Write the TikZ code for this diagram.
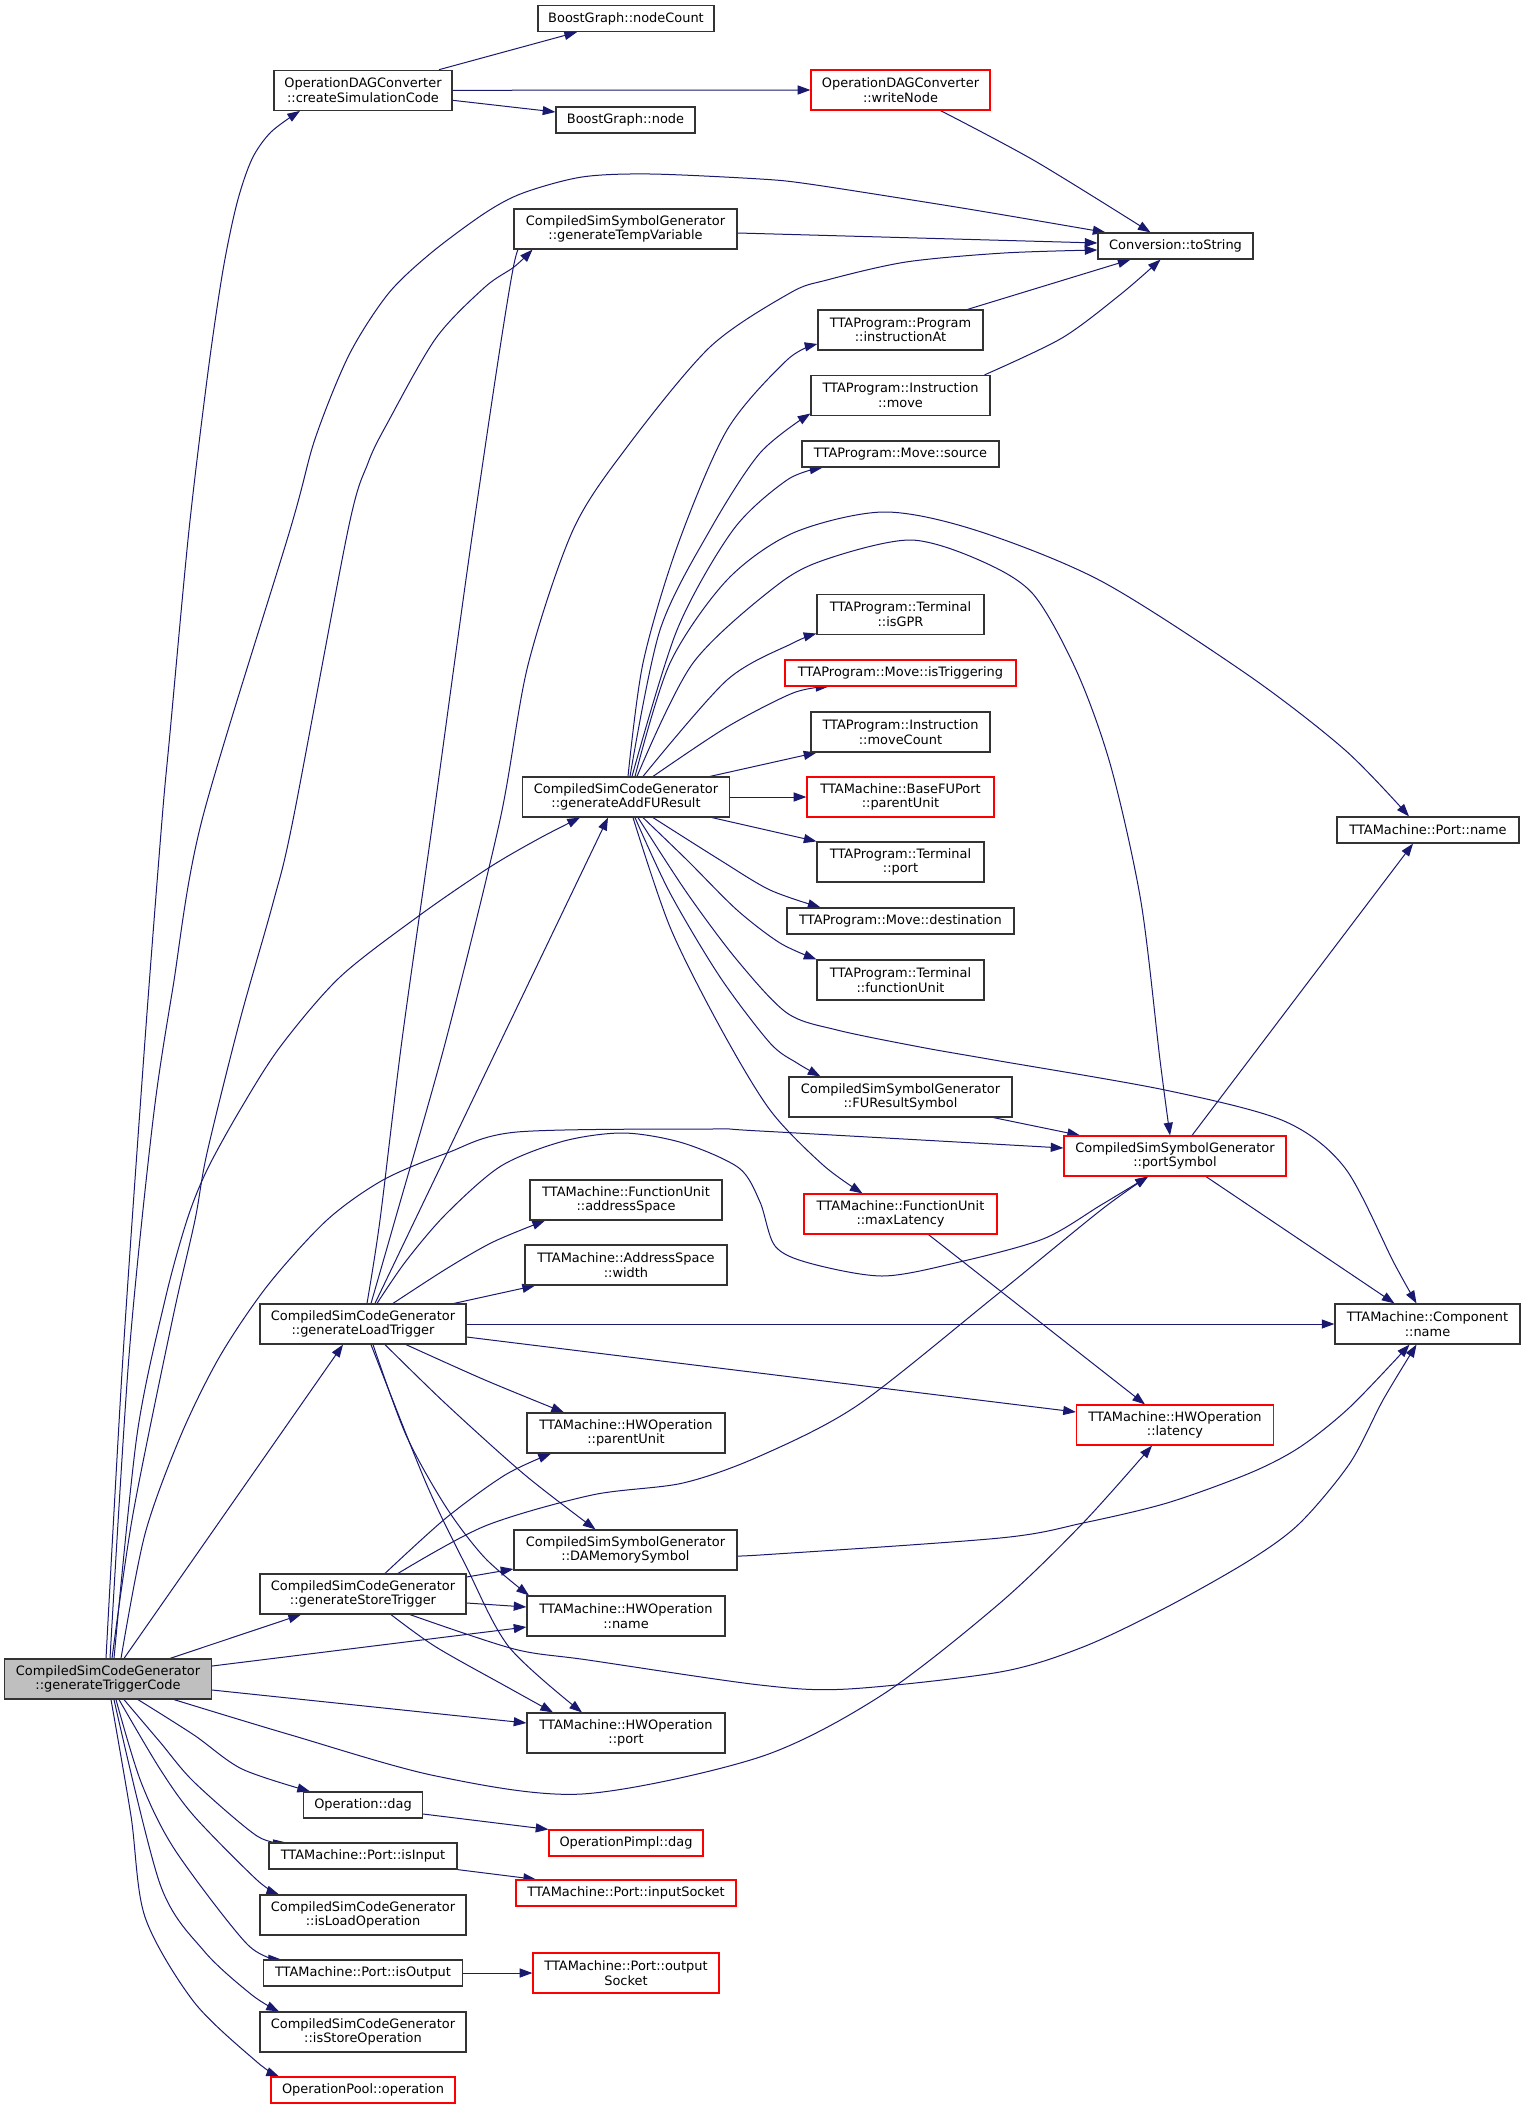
\documentclass[tikz,border=0pt]{standalone}
\usepackage{fontspec}
\setmainfont{DejaVu Sans}
\usetikzlibrary{arrows.meta,backgrounds,calc}
\definecolor{edgec}{HTML}{191970}
\definecolor{boxc}{HTML}{333333}
\definecolor{rootf}{HTML}{BFBFBF}
\definecolor{redc}{HTML}{FF0000}
\tikzset{
  box/.style={draw=boxc, fill=white, line width=0.9pt, inner sep=0pt, align=center,
    font={\fontsize{9.7}{11}\selectfont}, text=black},
  rbox/.style={box, draw=redc},
  root/.style={box, fill=rootf},
  hA/.style={minimum height=19.5pt},
  hB/.style={minimum height=30pt},
  e/.style={draw=edgec, line width=0.75pt, -{Triangle[length=9.5pt,width=6.8pt]}}
}
\begin{document}
\begin{tikzpicture}[x=0.75pt,y=-0.75pt]
\useasboundingbox (0,0) rectangle (1525,2109);
% nodes
\node[box, hA, minimum width=132pt] (nc) at (626,18.5) {BoostGraph::nodeCount};
\node[box, hB, minimum width=133.5pt] (cs) at (363,90.3) {OperationDAGConverter\\::createSimulationCode};
\node[box, hA, minimum width=104.25pt] (bn) at (625.5,120) {BoostGraph::node};
\node[rbox, hB, minimum width=134.25pt] (wn) at (900.5,90) {OperationDAGConverter\\::writeNode};
\node[box, hB, minimum width=167.25pt] (tv) at (625.5,229) {CompiledSimSymbolGenerator\\::generateTempVariable};
\node[box, hA, minimum width=116.25pt] (ts) at (1175.5,246) {Conversion::toString};
\node[box, hB, minimum width=123.75pt] (ia) at (900.5,330) {TTAProgram::Program\\::instructionAt};
\node[box, hB, minimum width=134.25pt] (mv) at (900.5,395.5) {TTAProgram::Instruction\\::move};
\node[box, hA, minimum width=147.75pt] (so) at (900.5,454) {TTAProgram::Move::source};
\node[box, hB, minimum width=125.25pt] (ig) at (900.5,614.5) {TTAProgram::Terminal\\::isGPR};
\node[rbox, hA, minimum width=173.25pt] (it) at (900.5,673) {TTAProgram::Move::isTriggering};
\node[box, hB, minimum width=134.25pt] (mc) at (900.5,732) {TTAProgram::Instruction\\::moveCount};
\node[box, hB, minimum width=155.25pt] (A) at (626,797) {CompiledSimCodeGenerator\\::generateAddFUResult};
\node[rbox, hB, minimum width=140.25pt] (bp) at (900.5,797) {TTAMachine::BaseFUPort\\::parentUnit};
\node[box, hA, minimum width=136.5pt] (pn) at (1428,830) {TTAMachine::Port::name};
\node[box, hB, minimum width=125.25pt] (tp) at (900.5,862) {TTAProgram::Terminal\\::port};
\node[box, hA, minimum width=170.25pt] (de) at (900.5,921) {TTAProgram::Move::destination};
\node[box, hB, minimum width=125.25pt] (fu) at (900.5,980) {TTAProgram::Terminal\\::functionUnit};
\node[box, hB, minimum width=167.25pt] (fr) at (900.5,1097) {CompiledSimSymbolGenerator\\::FUResultSymbol};
\node[rbox, hB, minimum width=166.5pt] (ps) at (1175,1156) {CompiledSimSymbolGenerator\\::portSymbol};
\node[box, hB, minimum width=144pt] (as) at (626,1200) {TTAMachine::FunctionUnit\\::addressSpace};
\node[rbox, hB, minimum width=144.75pt] (ml) at (900.5,1214) {TTAMachine::FunctionUnit\\::maxLatency};
\node[box, hB, minimum width=151.5pt] (aw) at (626,1265) {TTAMachine::AddressSpace\\::width};
\node[box, hB, minimum width=154.5pt] (L) at (363,1324) {CompiledSimCodeGenerator\\::generateLoadTrigger};
\node[box, hB, minimum width=138.75pt] (cn) at (1427.5,1324) {TTAMachine::Component\\::name};
\node[box, hB, minimum width=148.5pt] (hp) at (626,1433) {TTAMachine::HWOperation\\::parentUnit};
\node[rbox, hB, minimum width=147.75pt] (hl) at (1175,1425) {TTAMachine::HWOperation\\::latency};
\node[box, hB, minimum width=167.25pt] (dm) at (625.5,1550) {CompiledSimSymbolGenerator\\::DAMemorySymbol};
\node[box, hB, minimum width=154.5pt] (S) at (363,1594) {CompiledSimCodeGenerator\\::generateStoreTrigger};
\node[box, hB, minimum width=148.5pt] (hn) at (626,1616) {TTAMachine::HWOperation\\::name};
\node[root, hB, minimum width=155.25pt] (T) at (108,1679) {CompiledSimCodeGenerator\\::generateTriggerCode};
\node[box, hB, minimum width=148.5pt] (hpo) at (626,1733) {TTAMachine::HWOperation\\::port};
\node[box, hA, minimum width=89.25pt] (od) at (363,1805) {Operation::dag};
\node[rbox, hA, minimum width=115.5pt] (pd) at (626,1843) {OperationPimpl::dag};
\node[box, hA, minimum width=141pt] (ii) at (363,1856) {TTAMachine::Port::isInput};
\node[rbox, hA, minimum width=165pt] (is) at (626,1893) {TTAMachine::Port::inputSocket};
\node[box, hB, minimum width=154.5pt] (lo) at (363,1915) {CompiledSimCodeGenerator\\::isLoadOperation};
\node[box, hA, minimum width=149.25pt] (io) at (363,1973) {TTAMachine::Port::isOutput};
\node[rbox, hB, minimum width=139.5pt] (os) at (626,1973) {TTAMachine::Port::output\\Socket};
\node[box, hB, minimum width=154.5pt] (st) at (363,2032) {CompiledSimCodeGenerator\\::isStoreOperation};
\node[rbox, hA, minimum width=138pt] (op) at (363,2090) {OperationPool::operation};
% edges
\begin{scope}[on background layer]
\fill[white] (0,0) rectangle (1525,2109);
\draw[e] ($(cs.north)+(76,0)$) -- ($(nc.south)+(-49,0)$);
\draw[e] (cs.east) -- (wn.west);
\draw[e] ($(cs.east)+(0,10)$) -- ($(bn.west)+(0,-8)$);
\draw[e] plot[smooth] coordinates {($(wn.south)+(40,0)$) (1035,161) ($(ts.north)+(-25,0)$)};
\draw[e] ($(tv.east)+(0,4)$) -- ($(ts.west)+(0,-3)$);
\draw[e] ($(ia.north)+(67,0)$) -- ($(ts.south)+(-45,0)$);
\draw[e] plot[smooth] coordinates {($(mv.north)+(84,0)$) (1062,338) (1121,294) ($(ts.south)+(-15,0)$)};
% from T
\draw[e] plot[smooth] coordinates {($(T.north)+(-2,0)$) (123,1356) (145,1040) (162,820) (170,733) (189,530) (208,372) (223,270) (237,203) (252,159) (271,132) ($(cs.south)+(-63,0)$)};
\draw[e] plot[smooth] coordinates {($(T.north)+(2,0)$) (129,1356) (153,1120) (173,987) (202,820) (290,530) (315,439) (349,355) (388,294) (431,253) (485,213) (523,193) (582,177) (650,174) (760,179) (809,184) (931,203) (1004,215) ($(ts.north)+(-70,0)$)};
\draw[e] plot[smooth] coordinates {($(T.north)+(4,0)$) (133,1514) (173,1317) (195,1220) (207,1153) (240,1020) (273,903) (293,820) (348,530) (368,463) (388,422) (436,338) (485,287) (514,267) ($(tv.south)+(-93,0)$)};
\draw[e] plot[smooth] coordinates {($(T.north)+(6,0)$) (137,1435) (165,1300) (187,1220) (207,1170) (240,1110) (280,1047) (340,977) (420,915) (490,867) (540,838) ($(A.south)+(-46,0)$)};
\draw[e] plot[smooth] coordinates {($(T.north)+(13,0)$) (145,1534) (181,1435) (220,1356) (268,1285) (327,1220) (383,1180) (447,1153) (517,1132) (710,1129) (760,1131) ($(ps.west)+(0,-8)$)};
\draw[e] ($(T.north)+(16,0)$) -- ($(L.south)+(-20,0)$);
\draw[e] ($(T.north)+(62,0)$) -- ($(S.south)+(-62,0)$);
\draw[e] ($(T.east)+(0,-13)$) -- ($(hn.west)+(0,11)$);
\draw[e] ($(T.east)+(0,11)$) -- ($(hpo.west)+(0,-10)$);
\draw[e] plot[smooth] coordinates {($(T.south)+(66,0)$) (291,1735) (436,1776) (582,1794) (760,1757) (882,1695) (1000,1603) (1083,1523) ($(hl.south)+(-23,0)$)};
\draw[e] plot[smooth] coordinates {($(T.south)+(30,0)$) (194,1735) (242,1769) ($(od.north)+(-53,0)$)};
\draw[e] plot[smooth] coordinates {($(T.south)+(16,0)$) (160,1742) (194,1782) (257,1836) ($(ii.north)+(-77,0)$)};
\draw[e] plot[smooth] coordinates {($(T.south)+(11,0)$) (160,1769) (194,1816) (257,1880) ($(lo.north)+(-84,0)$)};
\draw[e] plot[smooth] coordinates {($(T.south)+(8,0)$) (141,1782) (175,1850) (247,1944) ($(io.north)+(-82,0)$)};
\draw[e] plot[smooth] coordinates {($(T.south)+(6,0)$) (160,1884) (204,1951) (252,1995) ($(st.north)+(-84,0)$)};
\draw[e] plot[smooth] coordinates {($(T.south)+(3,0)$) (131,1816) (145,1917) (194,2002) (257,2062) ($(op.north)+(-84,0)$)};
\draw[e] ($(od.east)+(0,9)$) -- (pd.north west);
\draw[e] (ii.south east) -- ($(is.north)+(-90,0)$);
\draw[e] (io.east) -- (os.west);
% from L
\draw[e] plot[smooth] coordinates {($(L.north)+(4,0)$) (380,1220) (402,1040) (433,820) (473,530) (514,264) ($(tv.south)+(-95,0)$)};
\draw[e] plot[smooth] coordinates {($(L.north)+(8,0)$) (395,1220) (446,1040) (500,820) (528,665) (573,530) (627,447) (710,347) (790,293) (827,280) (906,262) (1004,253) ($(ts.west)+(0,4)$)};
\draw[e] ($(L.north)+(12,0)$) -- ($(A.south)+(-18,0)$);
\draw[e] plot[smooth] coordinates {($(L.north)+(14,0)$) (406,1261) (446,1214) (501,1166) (564,1141) (624,1133) (683,1143) (739,1168) (760,1202) (775,1246) (809,1263) (882,1276) (955,1263) (1043,1239) (1101,1205) ($(ps.south)+(-27,0)$)};
\draw[e] plot[smooth] coordinates {($(L.north)+(30,0)$) (446,1269) (493,1242) ($(as.south)+(-81,0)$)};
\draw[e] ($(L.north)+(91,0)$) -- ($(aw.south)+(-91,0)$);
\draw[e] (L.east) -- (cn.west);
\draw[e] ($(L.east)+(0,13)$) -- ($(hl.west)+(0,-13)$);
\draw[e] plot[smooth] coordinates {($(L.south)+(43,0)$) (485,1380) ($(hp.north)+(-62,0)$)};
\draw[e] plot[smooth] coordinates {($(L.south)+(22,0)$) (446,1404) (525,1475) ($(dm.north)+(-30,0)$)};
\draw[e] plot[smooth] coordinates {($(L.south)+(10,0)$) (406,1435) (446,1507) (485,1558) ($(hn.north)+(-97,0)$)};
\draw[e] plot[smooth] coordinates {($(L.south)+(8,0)$) (426,1483) (466,1566) (509,1647) ($(hpo.north)+(-44,0)$)};
% from S
\draw[e] plot[smooth] coordinates {($(S.north)+(22,0)$) (446,1518) (505,1475) ($(hp.south)+(-75,0)$)};
\draw[e] plot[smooth] coordinates {($(S.north)+(35,0)$) (485,1526) (592,1495) (683,1483) (760,1456) (858,1405) (994,1297) (1101,1210) ($(ps.south)+(-27,0)$)};
\draw[e] ($(S.east)+(0,-17)$) -- ($(dm.west)+(0,19)$);
\draw[e] ($(S.east)+(0,9)$) -- ($(hn.west)+(0,-9)$);
\draw[e] plot[smooth] coordinates {($(S.south)+(28,0)$) (436,1647) (509,1688) ($(hpo.north)+(-73,0)$)};
\draw[e] plot[smooth] coordinates {($(S.south)+(47,0)$) (514,1649) (588,1660) (760,1685) (848,1689) (1000,1672) (1083,1647) (1167,1607) (1250,1560) (1300,1523) (1350,1463) (1383,1400) ($(cn.south)+(-11,0)$)};
\draw[e] plot[smooth] coordinates {($(dm.east)+(0,5)$) (760,1555) (1000,1538) (1083,1523) (1167,1503) (1250,1473) (1300,1447) (1350,1407) ($(cn.south)+(-18,0)$)};
% from A
\draw[e] plot[smooth] coordinates {($(A.north)+(2,0)$) (643,663) (677,547) (727,430) (787,360) ($(ia.west)+(0,14)$)};
\draw[e] plot[smooth] coordinates {($(A.north)+(4,0)$) (660,630) (710,530) (760,453) ($(mv.west)+(0,18)$)};
\draw[e] plot[smooth] coordinates {($(A.north)+(6,0)$) (677,630) (733,530) (787,480) ($(so.south)+(-78,0)$)};
\draw[e] plot[smooth] coordinates {($(A.north)+(9,0)$) (670,663) (727,580) (793,533) (883,512) (975,530) (1101,581) (1248,675) (1345,750) ($(pn.north)+(-19,0)$)};
\draw[e] plot[smooth] coordinates {($(A.north)+(11,0)$) (693,663) (780,583) (833,557) (911,540) (979,560) (1033,594) (1077,672) (1111,767) (1141,902) (1160,1060) ($(ps.north)+(-5,0)$)};
\draw[e] plot[smooth] coordinates {($(A.north)+(17,0)$) (727,680) (793,643) ($(ig.west)+(0,19)$)};
\draw[e] plot[smooth] coordinates {($(A.north)+(27,0)$) (727,727) (793,693) ($(it.south)+(-72,0)$)};
\draw[e] ($(A.north)+(84,0)$) -- ($(mc.south west)+(6,0)$);
\draw[e] (A.east) -- (bp.west);
\draw[e] ($(A.south)+(86,0)$) -- ($(tp.north)+(-84,0)$);
\draw[e] plot[smooth] coordinates {($(A.south)+(27,0)$) (720,860) (770,890) ($(de.north)+(-80,0)$)};
\draw[e] plot[smooth] coordinates {($(A.south)+(17,0)$) (687,860) (737,910) (780,943) ($(fu.north)+(-84,0)$)};
\draw[e] plot[smooth] coordinates {($(A.south)+(12,0)$) (687,893) (737,960) (787,1013) (837,1030) (920,1047) (994,1060) (1165,1090) (1284,1121) (1345,1168) (1394,1263) ($(cn.north)+(-11,0)$)};
\draw[e] plot[smooth] coordinates {($(A.south)+(9,0)$) (670,893) (720,977) (770,1043) (797,1063) ($(fr.north)+(-80,0)$)};
\draw[e] plot[smooth] coordinates {($(A.south)+(7,0)$) (670,927) (720,1027) (770,1110) (823,1165) ($(ml.north)+(-38,0)$)};
\draw[e] ($(fr.south)+(93,0)$) -- ($(ps.north)+(-95,0)$);
\draw[e] ($(ml.south)+(28,0)$) -- ($(hl.north)+(-30,0)$);
\draw[e] ($(ps.north)+(17,0)$) -- ($(pn.south)+(-15,0)$);
\draw[e] ($(ps.south)+(31,0)$) -- ($(cn.north)+(-33,0)$);
\end{scope}
\end{tikzpicture}
\end{document}
